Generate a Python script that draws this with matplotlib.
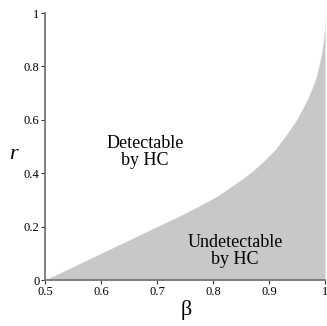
import matplotlib
matplotlib.use("Agg")
import matplotlib.pyplot as plt

# Boundary
beta = [0.5, 0.6, 0.7, 0.75, 0.77, 0.79, 0.81, 0.83, 0.85, 0.87, 0.89, 0.91, 0.93,
        0.95, 0.96, 0.97, 0.98, 0.985, 0.99, 0.994, 0.997, 0.999, 1.0]
rho = [0.0, 0.10, 0.20, 0.25, 0.272, 0.294, 0.318, 0.346, 0.375, 0.407, 0.444, 0.486, 0.541,
       0.603, 0.642, 0.683, 0.734, 0.767, 0.81, 0.85, 0.895, 0.94, 1.0]

xticks = [0.5, 0.6, 0.7, 0.8, 0.9, 1.0]
xticklabels = ["0.5", "0.6", "0.7", "0.8", "0.9", "1"]
yticks = [0, 0.2, 0.4, 0.6, 0.8, 1.0]
yticklabels = ["0", "0.2", "0.4", "0.6", "0.8", "1"]

plt.rcParams['font.family'] = ['Liberation Serif', 'DejaVu Serif']
fig = plt.figure(figsize=(3.27, 3.26), dpi=100)
ax = fig.add_axes([0.1376, 0.141, 0.8563, 0.819])
ax.fill_between(beta, rho, 0, color='#c8c8c8', linewidth=0)
ax.set_xlim(0.5, 1.0)
ax.set_ylim(0, 1.0)
for s in ['top', 'right']:
    ax.spines[s].set_visible(False)
for s in ['left', 'bottom']:
    ax.spines[s].set_color('#777777')
    ax.spines[s].set_linewidth(1.3)
ax.set_xticks(xticks)
ax.set_xticklabels(xticklabels)
ax.set_yticks(yticks)
ax.set_yticklabels(yticklabels)
ax.tick_params(length=3, width=0.8, color='#333333', labelsize=9, pad=1)
ax.text(0.679, 0.479, "Detectable\nby HC", ha='center', va='center', fontsize=13, linespacing=1.0)
ax.text(0.839, 0.109, "Undetectable\nby HC", ha='center', va='center', fontsize=13, linespacing=1.0)
fig.text(13/327, 1 - 155/326, "r", fontsize=16, style='italic', ha='center', va='center')
fig.text(186/327, 1 - 310/326, "β", fontsize=16, ha='center', va='center')
fig.savefig("out.png", dpi=100)
